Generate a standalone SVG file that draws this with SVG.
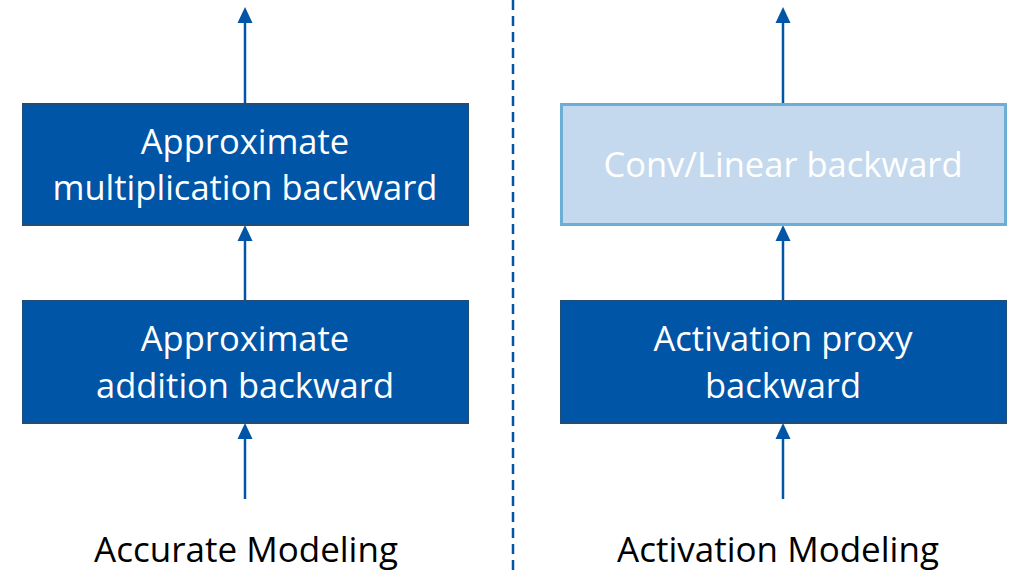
<svg xmlns="http://www.w3.org/2000/svg" width="1018" height="570" viewBox="0 0 1018 570">
<style>
.dark{fill:#0055A6;stroke:#1F4E79;stroke-width:2}
.light{fill:#C5D9EE;stroke:#6BAED6;stroke-width:3}
.t{font-family:"Open Sans","Liberation Sans",sans-serif;font-size:34.5px;fill:#FFFFFF;text-anchor:middle}
.cap{font-family:"Open Sans","Liberation Sans",sans-serif;font-size:35px;fill:#000000;text-anchor:middle}
.ln{stroke:#0055A6;stroke-width:2.5}
</style>
<rect width="1018" height="570" fill="#FFFFFF"/>
<g id="connectors">
<line class="ln" x1="245" y1="104" x2="245" y2="12"/>
<line class="ln" x1="245" y1="301" x2="245" y2="230"/>
<line class="ln" x1="245" y1="499" x2="245" y2="428"/>
<line class="ln" x1="783" y1="104" x2="783" y2="12"/>
<line class="ln" x1="783" y1="301" x2="783" y2="230"/>
<line class="ln" x1="783" y1="499" x2="783" y2="428"/>
<g fill="#0055A6">
<polygon points="245,7 237.5,23 252.5,23"/>
<polygon points="245,225 237.5,241 252.5,241"/>
<polygon points="245,423 237.5,439 252.5,439"/>
<polygon points="783,7 775.5,23 790.5,23"/>
<polygon points="783,225 775.5,241 790.5,241"/>
<polygon points="783,423 775.5,439 790.5,439"/>
</g>
<line x1="513" y1="0" x2="513" y2="570" stroke="#0055A6" stroke-width="2.5" stroke-dasharray="10,6"/>
</g>
<g id="node-mult">
<rect class="dark" x="23" y="104" width="445" height="121"/>
<text class="t" x="245" y="154">Approximate</text>
<text class="t" x="245" y="200">multiplication backward</text>
</g>
<g id="node-add">
<rect class="dark" x="23" y="301" width="445" height="122"/>
<text class="t" x="245" y="351">Approximate</text>
<text class="t" x="245" y="398">addition backward</text>
</g>
<g id="node-conv">
<rect class="light" x="561.5" y="104.5" width="444" height="120"/>
<text class="t" x="783" y="177">Conv/Linear backward</text>
</g>
<g id="node-act">
<rect class="dark" x="561" y="301" width="445" height="122"/>
<text class="t" x="783" y="351">Activation proxy</text>
<text class="t" x="783" y="398">backward</text>
</g>
<g id="captions">
<text class="cap" x="246" y="562">Accurate Modeling</text>
<text class="cap" x="778" y="562">Activation Modeling</text>
</g>
</svg>
